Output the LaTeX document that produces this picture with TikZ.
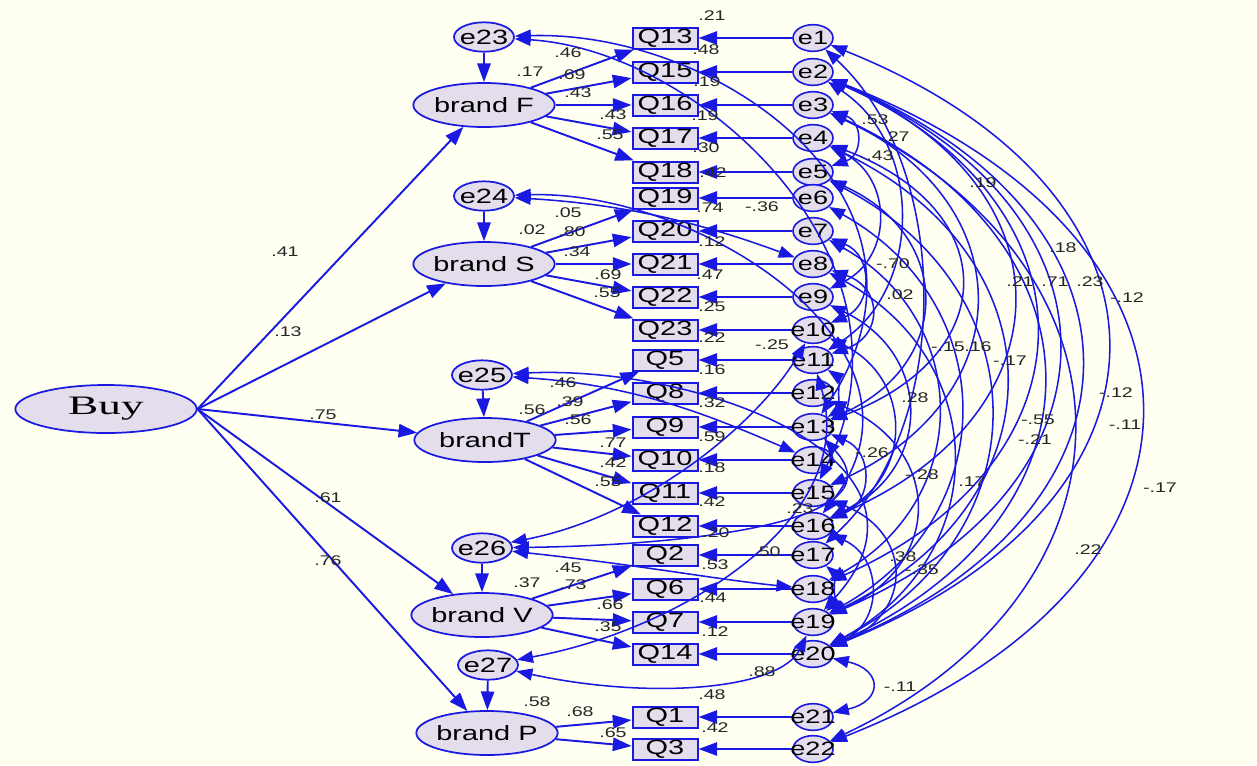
\documentclass[tikz,border=0pt]{standalone}
\usepackage{fontspec}
\setmainfont{Liberation Sans}[FakeStretch=1.4]
\newfontfamily\buyfont{Liberation Serif}[FakeStretch=1.7]
\usetikzlibrary{shapes.geometric,arrows.meta,calc}
\definecolor{lineblue}{RGB}{25,25,225}
\definecolor{nodefill}{RGB}{228,222,236}
\definecolor{bgcol}{RGB}{255,255,242}
\newcommand\covarc[3]{\draw[cov] (#1) .. controls ($(#1)!0.25!(#2)+(#3,0)$) and ($(#2)!0.25!(#1)+(#3,0)$) .. (#2);}
\tikzset{
  lat/.style={ellipse, draw=lineblue, fill=nodefill, line width=1.3pt, minimum width=106pt, minimum height=33pt, inner sep=0pt, font=\fontsize{15.5}{16}\selectfont},
  dist/.style={ellipse, draw=lineblue, fill=nodefill, line width=1.3pt, minimum width=45pt, minimum height=22pt, inner sep=0pt, font=\fontsize{15.5}{16}\selectfont},
  err/.style={ellipse, draw=lineblue, fill=nodefill, line width=1.2pt, minimum width=30pt, minimum height=20pt, inner sep=0pt, font=\fontsize{14.5}{15}\selectfont},
  obs/.style={rectangle, draw=lineblue, fill=nodefill, line width=1.5pt, minimum width=48.75pt, minimum height=15.75pt, inner sep=0pt, font=\fontsize{15.5}{16}\selectfont},
  reg/.style={draw=lineblue, line width=1.45pt, -{Triangle[length=14pt,width=10pt]}},
  cov/.style={draw=lineblue, line width=1.15pt, {Triangle[length=12pt,width=9pt]}-{Triangle[length=12pt,width=9pt]}},
  lbl/.style={font=\fontsize{10.5}{11}\selectfont, text=black!85, inner sep=0pt}
}
\begin{document}
\begin{tikzpicture}[x=0.75pt,y=-0.75pt]
\fill[bgcol] (0,0) rectangle (1257,765);
\useasboundingbox (0,0) rectangle (1257,765);

% latent variables
\node[lat, minimum width=136pt, minimum height=36pt, font=\buyfont\fontsize{20}{22}\selectfont] (Buy) at (106,409) {\makebox[0pt]{Buy}};
\node[lat] (bF) at (484,105) {\makebox[0pt]{brand F}};
\node[lat] (bS) at (484,264) {\makebox[0pt]{brand S}};
\node[lat] (bT) at (485,440) {\makebox[0pt]{brandT}};
\node[lat] (bV) at (482,615) {\makebox[0pt]{brand V}};
\node[lat] (bP) at (487,733) {\makebox[0pt]{brand P}};
% disturbances
\node[dist] (e23) at (484,37) {\makebox[0pt]{e23}};
\node[dist] (e24) at (484,196) {\makebox[0pt]{e24}};
\node[dist] (e25) at (482,375) {\makebox[0pt]{e25}};
\node[dist] (e26) at (482,548) {\makebox[0pt]{e26}};
\node[dist] (e27) at (488,665) {\makebox[0pt]{e27}};

% observed
\foreach \q/\y in {Q13/38,Q15/72,Q16/105,Q17/138,Q18/172,Q19/198,Q20/231,Q21/264,Q22/297,Q23/330,Q5/360,Q8/393,Q9/427,Q10/460,Q11/493,Q12/526,Q2/555,Q6/589,Q7/622,Q14/654,Q1/717,Q3/749}
  \node[obs] (\q) at (665,\y) {\q};
% errors
\foreach \i/\y in {1/38,2/72,3/105,4/138,5/172,6/198,7/231,8/264,9/297,10/330,11/360,12/393,13/427,14/460,15/493,16/526,17/555,18/589,19/622,20/654,21/717,22/749}
  \node[err] (e\i) at (813,\y) {\makebox[0pt]{e\i}};

% structural paths
\foreach \b in {bF,bS,bT,bV,bP} \draw[reg] (Buy.east) -- (\b);
\draw[reg] (e23) -- (bF);
\draw[reg] (e24) -- (bS);
\draw[reg] (e25) -- (bT);
\draw[reg] (e26) -- (bV);
\draw[reg] (e27) -- (bP);
\foreach \q in {Q13,Q15,Q16,Q17,Q18} \draw[reg] (bF) -- (\q);
\foreach \q in {Q19,Q20,Q21,Q22,Q23} \draw[reg] (bS) -- (\q);
\foreach \q in {Q5,Q8,Q9,Q10,Q11,Q12} \draw[reg] (bT) -- (\q);
\foreach \q in {Q2,Q6,Q7,Q14} \draw[reg] (bV) -- (\q);
\foreach \q in {Q1,Q3} \draw[reg] (bP) -- (\q);
\foreach \i/\q in {1/Q13,2/Q15,3/Q16,4/Q17,5/Q18,6/Q19,7/Q20,8/Q21,9/Q22,10/Q23,11/Q5,12/Q8,13/Q9,14/Q10,15/Q11,16/Q12,17/Q2,18/Q6,19/Q7,20/Q14,21/Q1,22/Q3}
  \draw[reg] (e\i) -- (\q);

% covariances from disturbances
\draw[cov] (e23) .. controls (720,30) and (960,200) .. (e13);
\draw[cov] (e23) .. controls (700,50) and (930,260) .. (e15);
\draw[cov] (e24) .. controls (700,190) and (950,350) .. (e16);
\draw[cov] (e24) .. controls (640,205) and (720,230) .. (e8);
\draw[cov] (e25) .. controls (700,365) and (960,460) .. (e19);
\draw[cov] (e25) .. controls (640,385) and (720,420) .. (e14);
\draw[cov] (e26) .. controls (650,515) and (760,420) .. (e10);
\draw[cov] (e26) .. controls (700,545) and (900,520) .. (e13);
\draw[cov] (e26) .. controls (640,565) and (720,580) .. (e18);
\draw[cov] (e27) .. controls (680,630) and (860,520) .. (e11);
\draw[cov] (e27) .. controls (650,700) and (780,690) .. (e19);

% covariances among errors
\covarc{e2}{e22}{430}
\covarc{e3}{e22}{340}
\covarc{e1}{e20}{385}
\covarc{e2}{e20}{350}
\covarc{e2}{e19}{320}
\covarc{e2}{e18}{290}
\covarc{e3}{e20}{300}
\covarc{e2}{e16}{260}
\covarc{e4}{e19}{250}
\covarc{e5}{e20}{230}
\covarc{e3}{e15}{210}
\covarc{e4}{e13}{190}
\covarc{e6}{e19}{190}
\covarc{e7}{e18}{160}
\covarc{e5}{e13}{140}
\covarc{e8}{e20}{180}
\covarc{e9}{e16}{120}
\covarc{e12}{e19}{130}
\covarc{e10}{e16}{100}
\covarc{e11}{e13}{25}
\covarc{e13}{e16}{60}
\covarc{e16}{e20}{70}
\covarc{e15}{e20}{100}
\covarc{e17}{e19}{20}
\covarc{e20}{e21}{70}
\covarc{e3}{e5}{50}
\covarc{e2}{e11}{110}
\covarc{e4}{e9}{80}
\covarc{e7}{e10}{60}
\covarc{e8}{e11}{70}
\covarc{e1}{e17}{140}

% labels: structural
\foreach \t/\x/\y in {.41/285/252,.13/288/332,.75/323/415,.61/328/498,.76/328/561,
  .46/568/53,.17/530/72,.69/572/75,.43/578/93,.43/613/115,.55/610/135,
  .05/568/213,.02/532/230,.80/572/232,.34/577/252,.69/608/275,.55/607/293,
  .46/563/383,.56/532/410,.39/570/402,.56/578/420,.77/613/443,.42/613/463,.55/608/482,
  .45/568/568,.37/527/583,.73/573/585,.66/610/605,.35/608/627,
  .58/537/702,.68/580/712,.65/613/733}
  \node[lbl] at (\x,\y) {\t};
% labels: R2 of observed
\foreach \t/\x/\y in {.21/712/16,.48/706/50,.19/707/82,.19/705/116,.30/706/148,.42/713/173,.74/710/208,.12/712/242,.47/710/275,.25/712/307,.22/712/338,.16/712/370,.32/712/403,.59/712/437,.18/712/468,.42/712/502,.20/716/533,.53/715/565,.44/713/598,.12/715/632,.48/712/695,.42/715/728}
  \node[lbl] at (\x,\y) {\t};
% labels: covariances
\foreach \t/\x/\y in {-.36/762/207,.50/767/552,.88/762/672,-.25/772/345,.23/800/509,
  .53/875/120,.27/896/137,.43/880/156,.19/983/183,.18/1063/248,.21/1020/282,.71/1055/282,.23/1090/282,-.12/1127/298,
  -.70/893/264,.02/900/295,-.15/948/347,.16/978/347,-.17/1010/361,-.12/1116/393,-.55/1038/420,-.11/1125/425,-.21/1035/440,
  .28/915/398,-.26/872/453,-.28/922/475,.17/972/482,-.17/1160/488,.22/1088/550,.38/903/557,-.35/922/570,-.11/900/687}
  \node[lbl] at (\x,\y) {\t};
\end{tikzpicture}
\end{document}
